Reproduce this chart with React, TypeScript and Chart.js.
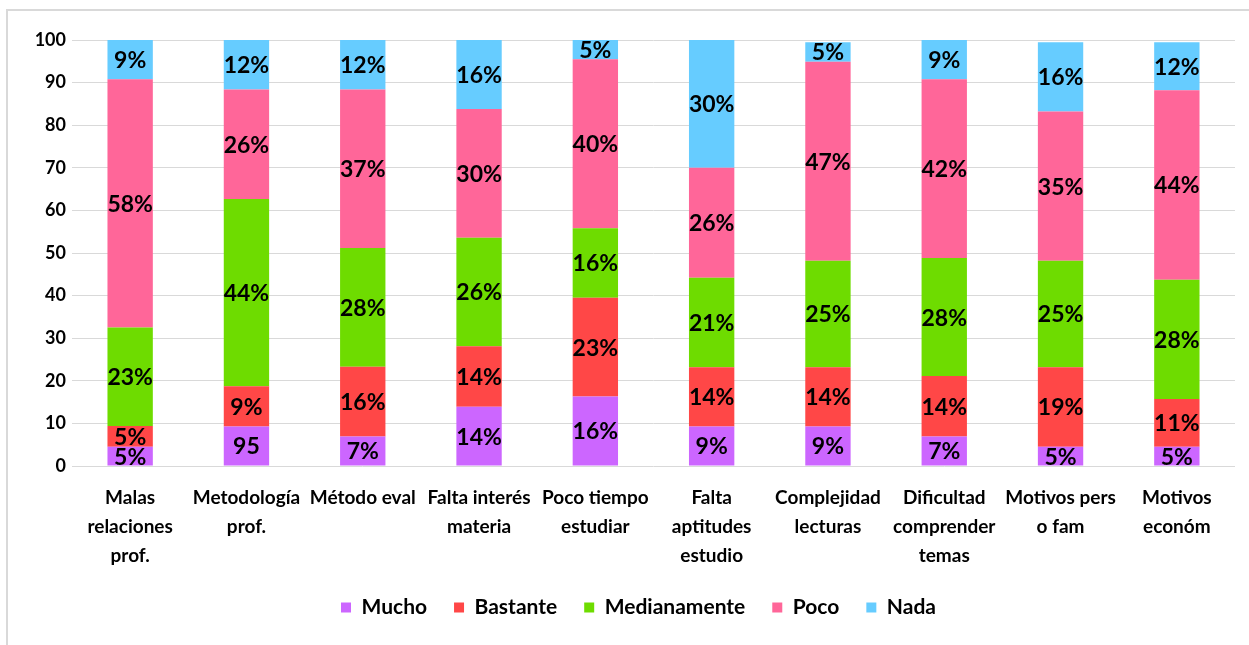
import React, { useEffect, useRef } from "react";
import { Chart, registerables } from "chart.js";

Chart.register(...registerables);

const categories: string[][] = [
  ["Malas", "relaciones", "prof."],
  ["Metodología", "prof."],
  ["Método eval"],
  ["Falta interés", "materia"],
  ["Poco tiempo", "estudiar"],
  ["Falta", "aptitudes", "estudio"],
  ["Complejidad", "lecturas"],
  ["Dificultad", "comprender", "temas"],
  ["Motivos pers", "o fam"],
  ["Motivos", "económ"],
];

const seriesNames = ["Mucho", "Bastante", "Medianamente", "Poco", "Nada"];
const seriesColors = ["#CC66FF", "#FF4747", "#6EDC00", "#FF6699", "#66CCFF"];

const mucho = [4.5, 9.3, 6.9, 13.9, 16.3, 9.3, 9.3, 6.9, 4.5, 4.5];
const bastante = [4.9, 9.4, 16.4, 14.2, 23.2, 13.9, 13.9, 14.2, 18.7, 11.2];
const medianamente = [23.1, 44.0, 27.9, 25.5, 16.3, 21.0, 25.0, 27.7, 25.0, 28.0];
const poco = [58.3, 25.7, 37.2, 30.2, 39.7, 25.8, 46.7, 42.0, 35.0, 44.5];
const nada = [9.2, 11.6, 11.6, 16.2, 4.5, 30.0, 4.6, 9.2, 16.3, 11.3];

const muchoLabels = ["5%", "95", "7%", "14%", "16%", "9%", "9%", "7%", "5%", "5%"];
const bastanteLabels = ["5%", "9%", "16%", "14%", "23%", "14%", "14%", "14%", "19%", "11%"];
const medianamenteLabels = ["23%", "44%", "28%", "26%", "16%", "21%", "25%", "28%", "25%", "28%"];
const pocoLabels = ["58%", "26%", "37%", "30%", "40%", "26%", "47%", "42%", "35%", "44%"];
const nadaLabels = ["9%", "12%", "12%", "16%", "5%", "30%", "5%", "9%", "16%", "12%"];

const yMin = 0;
const yMax = 100;
const yStep = 10;

const FONT = "Lato, 'Open Sans', sans-serif";

const seriesValues = [mucho, bastante, medianamente, poco, nada];
const seriesLabels = [muchoLabels, bastanteLabels, medianamenteLabels, pocoLabels, nadaLabels];

const frameAndLabels = {
  id: "frameAndLabels",
  afterLayout(chart: any) {
    const lg = chart.legend;
    if (lg) {
      lg.left += 21;
      lg.right += 21;
    }
  },
  beforeDraw(chart: any) {
    const ctx = chart.ctx;
    ctx.save();
    ctx.fillStyle = "#d9d9d9";
    ctx.fillRect(6, 9, chart.width, 2);
    ctx.fillRect(6, 9, 2, chart.height);
    ctx.restore();
  },
  afterDatasetsDraw(chart: any) {
    const ctx = chart.ctx;
    ctx.save();
    ctx.font = `bold 23px ${FONT}`;
    ctx.fillStyle = "#000000";
    ctx.textAlign = "center";
    ctx.textBaseline = "middle";
    chart.data.datasets.forEach((ds: any, di: number) => {
      const meta = chart.getDatasetMeta(di);
      meta.data.forEach((el: any, i: number) => {
        const lbl = seriesLabels[di][i];
        if (!lbl) return;
        const cy = (el.y + el.base) / 2;
        ctx.fillText(lbl, el.x, cy + 1);
      });
    });
    ctx.restore();
  },
};

export default function App() {
  const canvasRef = useRef<HTMLCanvasElement | null>(null);

  useEffect(() => {
    const canvas = canvasRef.current;
    if (!canvas) return;
    const chart = new Chart(canvas, {
      type: "bar",
      data: {
        labels: categories,
        datasets: seriesNames.map((name, i) => ({
          label: name,
          data: seriesValues[i],
          backgroundColor: seriesColors[i],
          borderWidth: 0,
          barPercentage: 0.39,
          categoryPercentage: 1,
        })),
      },
      options: {
        responsive: false,
        animation: false,
        maintainAspectRatio: false,
        layout: { padding: { left: 0, top: 40, right: 14, bottom: 17 } },
        plugins: {
          legend: {
            position: "bottom",
            labels: {
              boxWidth: 10,
              boxHeight: 10,
              padding: 27,
              color: "#000000",
              font: { family: FONT, size: 21, weight: "bold" },
            },
          },
          tooltip: { enabled: false },
        },
        scales: {
          x: {
            stacked: true,
            grid: { display: false, drawTicks: false },
            border: { display: false },
            ticks: {
              color: "#000000",
              padding: 17,
              maxRotation: 0,
              autoSkip: false,
              font: { family: FONT, size: 19, weight: "bold", lineHeight: 29 / 19 },
            },
            afterFit(scale: any) {
              scale.height = 104;
            },
          },
          y: {
            stacked: true,
            min: yMin,
            max: yMax,
            grid: { color: "#d9d9d9", lineWidth: 1, drawTicks: false },
            border: { display: false },
            ticks: {
              stepSize: yStep,
              color: "#000000",
              padding: 6,
              font: { family: FONT, size: 18, weight: "bold" },
            },
            afterFit(scale: any) {
              scale.width = 72;
            },
          },
        },
      },
      plugins: [frameAndLabels],
    } as any);
    return () => chart.destroy();
  }, []);

  return (
    <div style={{ position: "fixed", left: 0, top: 0, width: 1249, height: 645, background: "#ffffff" }}>
      <canvas ref={canvasRef} width={1249} height={645} style={{ display: "block" }} />
    </div>
  );
}
